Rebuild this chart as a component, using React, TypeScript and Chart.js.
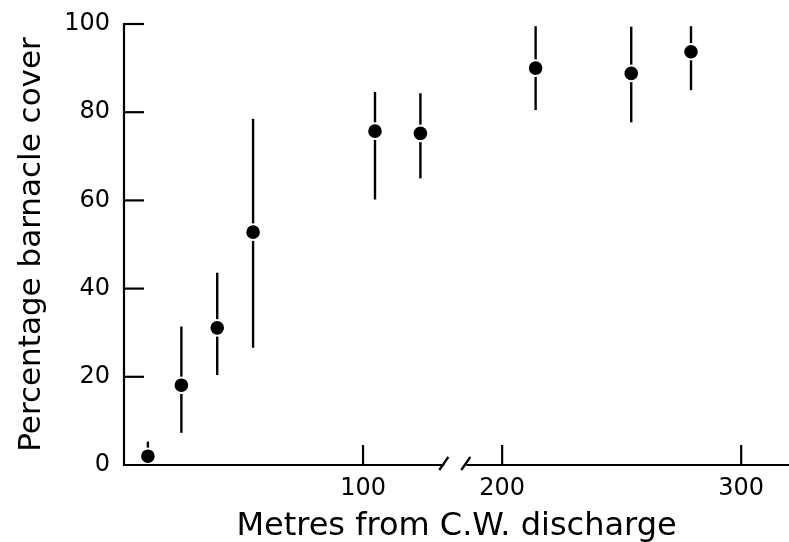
import React, { useEffect, useRef } from "react";
import { Chart, registerables } from "chart.js";

Chart.register(...registerables);

// Distance from C.W. discharge (m)
const distances = [10, 24, 39, 54, 105, 124, 214, 254, 279];
// Percentage barnacle cover (mean)
const cover = [2.0, 18.1, 31.1, 52.8, 75.7, 75.2, 90.0, 88.8, 93.7];
// Error bar upper and lower limits
const upper = [5.3, 31.4, 43.6, 78.5, 84.6, 84.3, 99.5, 99.4, 99.5];
const lower = [0, 7.3, 20.4, 26.6, 60.2, 65.0, 80.5, 77.7, 85.0];
// Axis ticks
const xTicks = [100, 200, 300];
const yTicks = [0, 20, 40, 60, 80, 100];
// Axis break: left segment ends at breakLeft, right segment starts at breakRight
const breakLeft = 134;
const breakRight = 185;
const breakShift = 41.8; // compression of the axis beyond the break
const xMaxReal = 320;

const toDisp = (v: number) => (v >= 160 ? v - breakShift : v);
const fromDisp = (v: number) => (v >= 140 ? v + breakShift : v);

const FONT = "'DejaVu Sans', sans-serif";

const axesPlugin = {
  id: "customAxes",
  beforeDatasetsDraw(chart: any) {
    const { ctx, scales } = chart;
    const x = scales.x;
    const y = scales.y;
    ctx.save();
    ctx.strokeStyle = "#000";
    ctx.lineWidth = 2.4;
    ctx.lineCap = "butt";
    for (let i = 0; i < distances.length; i++) {
      const px = x.getPixelForValue(toDisp(distances[i]));
      ctx.beginPath();
      ctx.moveTo(px, y.getPixelForValue(upper[i]));
      ctx.lineTo(px, y.getPixelForValue(lower[i]));
      ctx.stroke();
    }
    ctx.restore();
  },
  afterDraw(chart: any) {
    const { ctx, scales } = chart;
    const x = scales.x;
    const y = scales.y;
    const x0 = x.getPixelForValue(0);
    const y0 = y.getPixelForValue(0);
    const yTop = y.getPixelForValue(100);
    ctx.save();
    ctx.strokeStyle = "#000";
    ctx.lineWidth = 2.2;
    ctx.lineCap = "butt";
    // y axis line
    ctx.beginPath();
    ctx.moveTo(x0, y0 + 1);
    ctx.lineTo(x0, yTop - 1);
    ctx.stroke();
    // y ticks (inward)
    for (const t of yTicks) {
      if (t === 0) continue;
      const py = y.getPixelForValue(t);
      ctx.beginPath();
      ctx.moveTo(x0, py);
      ctx.lineTo(x0 + 20, py);
      ctx.stroke();
    }
    // x axis segments with break
    const bl = x.getPixelForValue(toDisp(breakLeft));
    const br = x.getPixelForValue(toDisp(breakRight));
    ctx.beginPath();
    ctx.moveTo(x0 - 1, y0);
    ctx.lineTo(bl, y0);
    ctx.moveTo(br, y0);
    ctx.lineTo(x.getPixelForValue(toDisp(xMaxReal)), y0);
    ctx.stroke();
    for (const c of [bl, br]) {
      ctx.beginPath();
      ctx.moveTo(c - 5, y0 + 5);
      ctx.lineTo(c + 4, y0 - 8);
      ctx.stroke();
    }
    // x ticks (inward)
    for (const t of xTicks) {
      const px = x.getPixelForValue(toDisp(t));
      ctx.beginPath();
      ctx.moveTo(px, y0);
      ctx.lineTo(px, y0 - 20);
      ctx.stroke();
    }
    ctx.restore();
  },
};

export default function App() {
  const ref = useRef<HTMLCanvasElement | null>(null);
  useEffect(() => {
    if (!ref.current) return;
    const chart = new Chart(ref.current, {
      type: "scatter",
      data: {
        datasets: [
          {
            data: distances.map((d, i) => ({ x: toDisp(d), y: cover[i] })),
            backgroundColor: "#000",
            borderColor: "#fff",
            borderWidth: 2,
            pointRadius: 7.8,
            pointHoverRadius: 7.8,
            clip: false,
          },
        ],
      },
      options: {
        animation: false,
        responsive: false,
        maintainAspectRatio: false,
        layout: { autoPadding: false, padding: { top: 24, right: 0, left: 0, bottom: 0 } },
        plugins: { legend: { display: false }, tooltip: { enabled: false } },
        scales: {
          x: {
            type: "linear",
            min: 0,
            max: toDisp(xMaxReal),
            grid: { display: false, drawTicks: false },
            border: { display: false },
            afterBuildTicks: (s: any) => {
              s.ticks = xTicks.map((v) => ({ value: toDisp(v) }));
            },
            afterFit: (s: any) => {
              s.height = 77;
              s.paddingLeft = 0;
              s.paddingRight = 0;
            },
            ticks: {
              autoSkip: false,
              maxRotation: 0,
              padding: 9,
              color: "#000",
              font: { family: FONT, size: 24 },
              callback: (v: any) => String(Math.round(fromDisp(Number(v)))),
            },
            title: {
              display: true,
              text: "Metres from C.W. discharge",
              color: "#000",
              font: { family: FONT, size: 32 },
              padding: { top: 0, bottom: -4 },
            },
          },
          y: {
            type: "linear",
            min: 0,
            max: 100,
            grid: { display: false, drawTicks: false },
            border: { display: false },
            afterBuildTicks: (s: any) => {
              s.ticks = yTicks.map((v) => ({ value: v }));
            },
            afterFit: (s: any) => {
              s.width = 124;
              s.paddingTop = 0;
              s.paddingBottom = 0;
            },
            ticks: {
              padding: 14,
              color: "#000",
              font: { family: FONT, size: 24 },
            },
            title: {
              display: true,
              text: "Percentage barnacle cover",
              color: "#000",
              font: { family: FONT, size: 31 },
              padding: { top: 13, bottom: 0 },
            },
          },
        },
      },
      plugins: [axesPlugin],
    });
    return () => chart.destroy();
  }, []);
  return (
    <div style={{ position: "absolute", left: 0, top: 0, width: 789, height: 542, background: "#fff" }}>
      <canvas ref={ref} width={789} height={542} style={{ display: "block" }} />
    </div>
  );
}
